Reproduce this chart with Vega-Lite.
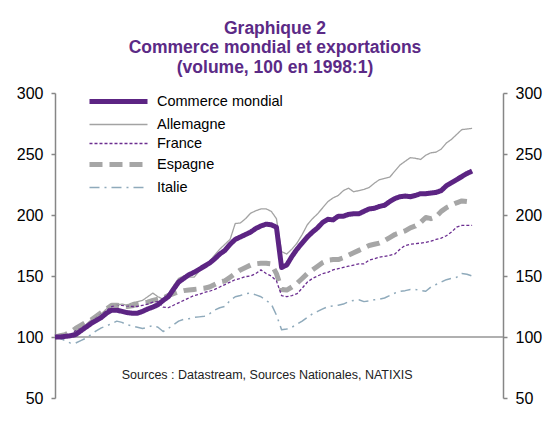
{
  "$schema": "https://vega.github.io/schema/vega-lite/v6.json",
  "width": 448,
  "height": 305,
  "autosize": {"type": "none"},
  "padding": {"left": 55, "top": 93, "right": 47, "bottom": 29},
  "background": "white",
  "title": {
    "text": ["Graphique 2", "Commerce mondial et exportations", "(volume, 100 en 1998:1)"],
    "font": "Liberation Sans",
    "fontSize": 17.5,
    "fontWeight": "bold",
    "color": "#5B2A86",
    "lineHeight": 19.5,
    "anchor": "middle",
    "offset": 9,
    "dx": -4
  },
  "config": {
    "view": {"stroke": null},
    "font": "Liberation Sans",
    "legend": {
      "orient": "none",
      "legendX": 51,
      "legendY": -4,
      "symbolType": "M-3,0H3",
      "symbolSize": 374,
      "labelFont": "Liberation Sans",
      "labelFontSize": 14.5,
      "labelColor": "#000000",
      "labelOffset": 26,
      "rowPadding": 2,
      "padding": 0
    }
  },
  "data": {
    "values": [
      {"t": 1998.0, "Commerce mondial": 100, "Allemagne": 100, "France": 100, "Espagne": 100, "Italie": 100},
      {"t": 1998.25, "Commerce mondial": 100, "Allemagne": 101, "France": 100.5, "Espagne": 101, "Italie": 99},
      {"t": 1998.5, "Commerce mondial": 100.5, "Allemagne": 101, "France": 101, "Espagne": 102, "Italie": 97},
      {"t": 1998.75, "Commerce mondial": 101, "Allemagne": 102, "France": 102, "Espagne": 104, "Italie": 95},
      {"t": 1999.0, "Commerce mondial": 102, "Allemagne": 104, "France": 105, "Espagne": 107, "Italie": 95},
      {"t": 1999.25, "Commerce mondial": 105, "Allemagne": 107, "France": 107, "Espagne": 109.5, "Italie": 97},
      {"t": 1999.5, "Commerce mondial": 108, "Allemagne": 110, "France": 110, "Espagne": 112, "Italie": 99},
      {"t": 1999.75, "Commerce mondial": 111, "Allemagne": 114, "France": 113, "Espagne": 114, "Italie": 102},
      {"t": 2000.0, "Commerce mondial": 113.5, "Allemagne": 116, "France": 116, "Espagne": 117, "Italie": 105},
      {"t": 2000.25, "Commerce mondial": 116, "Allemagne": 119, "France": 119, "Espagne": 120, "Italie": 107.5},
      {"t": 2000.5, "Commerce mondial": 119.5, "Allemagne": 123, "France": 122, "Espagne": 123, "Italie": 109},
      {"t": 2000.75, "Commerce mondial": 122, "Allemagne": 126.5, "France": 125, "Espagne": 126, "Italie": 111},
      {"t": 2001.0, "Commerce mondial": 122, "Allemagne": 126, "France": 126, "Espagne": 126, "Italie": 113},
      {"t": 2001.25, "Commerce mondial": 121, "Allemagne": 127, "France": 126, "Espagne": 125.5, "Italie": 112},
      {"t": 2001.5, "Commerce mondial": 120, "Allemagne": 126, "France": 125.5, "Espagne": 125, "Italie": 110},
      {"t": 2001.75, "Commerce mondial": 119.5, "Allemagne": 128, "France": 125, "Espagne": 125.5, "Italie": 109},
      {"t": 2002.0, "Commerce mondial": 119.5, "Allemagne": 129, "France": 125, "Espagne": 127, "Italie": 108},
      {"t": 2002.25, "Commerce mondial": 121, "Allemagne": 130, "France": 126, "Espagne": 128, "Italie": 107},
      {"t": 2002.5, "Commerce mondial": 123, "Allemagne": 133, "France": 127, "Espagne": 128.5, "Italie": 108},
      {"t": 2002.75, "Commerce mondial": 124.5, "Allemagne": 136, "France": 128.5, "Espagne": 130, "Italie": 109.5},
      {"t": 2003.0, "Commerce mondial": 126.5, "Allemagne": 133, "France": 129, "Espagne": 131, "Italie": 108},
      {"t": 2003.25, "Commerce mondial": 130, "Allemagne": 131, "France": 124.5, "Espagne": 132, "Italie": 104.5},
      {"t": 2003.5, "Commerce mondial": 133, "Allemagne": 135, "France": 124, "Espagne": 134, "Italie": 107},
      {"t": 2003.75, "Commerce mondial": 139, "Allemagne": 142, "France": 126, "Espagne": 135.5, "Italie": 110},
      {"t": 2004.0, "Commerce mondial": 145, "Allemagne": 148, "France": 128, "Espagne": 137, "Italie": 113},
      {"t": 2004.25, "Commerce mondial": 148, "Allemagne": 150, "France": 130, "Espagne": 138, "Italie": 114.5},
      {"t": 2004.5, "Commerce mondial": 151, "Allemagne": 149, "France": 132, "Espagne": 138.5, "Italie": 115},
      {"t": 2004.75, "Commerce mondial": 153, "Allemagne": 149, "France": 134, "Espagne": 139, "Italie": 116},
      {"t": 2005.0, "Commerce mondial": 155.5, "Allemagne": 154, "France": 135, "Espagne": 139.5, "Italie": 116.5},
      {"t": 2005.25, "Commerce mondial": 158, "Allemagne": 158, "France": 136.5, "Espagne": 140, "Italie": 117},
      {"t": 2005.5, "Commerce mondial": 160.5, "Allemagne": 162, "France": 137.5, "Espagne": 141, "Italie": 119},
      {"t": 2005.75, "Commerce mondial": 164, "Allemagne": 167, "France": 139, "Espagne": 143, "Italie": 122},
      {"t": 2006.0, "Commerce mondial": 168, "Allemagne": 172, "France": 141, "Espagne": 145, "Italie": 124},
      {"t": 2006.25, "Commerce mondial": 171, "Allemagne": 176, "France": 143, "Espagne": 146, "Italie": 125},
      {"t": 2006.5, "Commerce mondial": 176, "Allemagne": 180, "France": 145, "Espagne": 149, "Italie": 130},
      {"t": 2006.75, "Commerce mondial": 180, "Allemagne": 193, "France": 147, "Espagne": 152, "Italie": 133},
      {"t": 2007.0, "Commerce mondial": 182, "Allemagne": 193.5, "France": 148, "Espagne": 155, "Italie": 134},
      {"t": 2007.25, "Commerce mondial": 184, "Allemagne": 197, "France": 149.5, "Espagne": 157, "Italie": 135.5},
      {"t": 2007.5, "Commerce mondial": 186, "Allemagne": 201.5, "France": 150, "Espagne": 159, "Italie": 136},
      {"t": 2007.75, "Commerce mondial": 189, "Allemagne": 203.5, "France": 152, "Espagne": 160, "Italie": 134.5},
      {"t": 2008.0, "Commerce mondial": 191, "Allemagne": 205, "France": 155, "Espagne": 160.5, "Italie": 133},
      {"t": 2008.25, "Commerce mondial": 192.5, "Allemagne": 205, "France": 152, "Espagne": 160.5, "Italie": 130},
      {"t": 2008.5, "Commerce mondial": 192, "Allemagne": 203, "France": 150, "Espagne": 160, "Italie": 127},
      {"t": 2008.75, "Commerce mondial": 190, "Allemagne": 197, "France": 146, "Espagne": 152, "Italie": 118},
      {"t": 2009.0, "Commerce mondial": 157, "Allemagne": 170, "France": 134, "Espagne": 139, "Italie": 106},
      {"t": 2009.25, "Commerce mondial": 159, "Allemagne": 168, "France": 133, "Espagne": 138.5, "Italie": 106.5},
      {"t": 2009.5, "Commerce mondial": 166, "Allemagne": 172, "France": 134, "Espagne": 141, "Italie": 108},
      {"t": 2009.75, "Commerce mondial": 172, "Allemagne": 177, "France": 135.5, "Espagne": 144, "Italie": 110.5},
      {"t": 2010.0, "Commerce mondial": 177, "Allemagne": 184, "France": 140, "Espagne": 148, "Italie": 113},
      {"t": 2010.25, "Commerce mondial": 182, "Allemagne": 192, "France": 145, "Espagne": 152, "Italie": 116},
      {"t": 2010.5, "Commerce mondial": 186, "Allemagne": 197, "France": 148, "Espagne": 155, "Italie": 119},
      {"t": 2010.75, "Commerce mondial": 189.5, "Allemagne": 201, "France": 150, "Espagne": 158, "Italie": 121},
      {"t": 2011.0, "Commerce mondial": 194, "Allemagne": 206, "France": 152, "Espagne": 161, "Italie": 123},
      {"t": 2011.25, "Commerce mondial": 196.5, "Allemagne": 211, "France": 153, "Espagne": 163, "Italie": 125},
      {"t": 2011.5, "Commerce mondial": 196, "Allemagne": 214, "France": 155, "Espagne": 163.5, "Italie": 125.5},
      {"t": 2011.75, "Commerce mondial": 199, "Allemagne": 216, "France": 156, "Espagne": 163.5, "Italie": 126},
      {"t": 2012.0, "Commerce mondial": 199, "Allemagne": 220, "France": 157, "Espagne": 165, "Italie": 127},
      {"t": 2012.25, "Commerce mondial": 200.5, "Allemagne": 222, "France": 158, "Espagne": 167, "Italie": 129},
      {"t": 2012.5, "Commerce mondial": 201, "Allemagne": 219, "France": 159, "Espagne": 169, "Italie": 130},
      {"t": 2012.75, "Commerce mondial": 201, "Allemagne": 220, "France": 160, "Espagne": 171, "Italie": 130.5},
      {"t": 2013.0, "Commerce mondial": 203, "Allemagne": 221, "France": 160, "Espagne": 173, "Italie": 129},
      {"t": 2013.25, "Commerce mondial": 205, "Allemagne": 222.5, "France": 163, "Espagne": 175, "Italie": 129.5},
      {"t": 2013.5, "Commerce mondial": 205.5, "Allemagne": 226, "France": 164, "Espagne": 176, "Italie": 130.5},
      {"t": 2013.75, "Commerce mondial": 207, "Allemagne": 229, "France": 165.5, "Espagne": 177, "Italie": 131},
      {"t": 2014.0, "Commerce mondial": 208, "Allemagne": 230, "France": 166, "Espagne": 179, "Italie": 132},
      {"t": 2014.25, "Commerce mondial": 211, "Allemagne": 231, "France": 167, "Espagne": 181.5, "Italie": 134},
      {"t": 2014.5, "Commerce mondial": 213.5, "Allemagne": 236, "France": 168, "Espagne": 184, "Italie": 136},
      {"t": 2014.75, "Commerce mondial": 215, "Allemagne": 241, "France": 172, "Espagne": 185.5, "Italie": 137.5},
      {"t": 2015.0, "Commerce mondial": 215.5, "Allemagne": 244, "France": 175, "Espagne": 187, "Italie": 138},
      {"t": 2015.25, "Commerce mondial": 215, "Allemagne": 247, "France": 176, "Espagne": 189.5, "Italie": 139},
      {"t": 2015.5, "Commerce mondial": 216, "Allemagne": 246.5, "France": 176.5, "Espagne": 191, "Italie": 139},
      {"t": 2015.75, "Commerce mondial": 217.5, "Allemagne": 245.5, "France": 177, "Espagne": 194, "Italie": 138},
      {"t": 2016.0, "Commerce mondial": 217.5, "Allemagne": 249, "France": 177.5, "Espagne": 198, "Italie": 137.5},
      {"t": 2016.25, "Commerce mondial": 218, "Allemagne": 251, "France": 178.5, "Espagne": 197, "Italie": 141},
      {"t": 2016.5, "Commerce mondial": 218.5, "Allemagne": 251.5, "France": 180, "Espagne": 198.5, "Italie": 143},
      {"t": 2016.75, "Commerce mondial": 220, "Allemagne": 254, "France": 181, "Espagne": 203, "Italie": 145},
      {"t": 2017.0, "Commerce mondial": 224, "Allemagne": 259, "France": 183, "Espagne": 206, "Italie": 147},
      {"t": 2017.25, "Commerce mondial": 226.5, "Allemagne": 262, "France": 186, "Espagne": 208, "Italie": 148},
      {"t": 2017.5, "Commerce mondial": 229, "Allemagne": 266, "France": 190, "Espagne": 210, "Italie": 149},
      {"t": 2017.75, "Commerce mondial": 231.5, "Allemagne": 270, "France": 191.5, "Espagne": 211.5, "Italie": 152},
      {"t": 2018.0, "Commerce mondial": 234, "Allemagne": 270.5, "France": 191.5, "Espagne": 211, "Italie": 151.5},
      {"t": 2018.25, "Commerce mondial": 236, "Allemagne": 271, "France": 191.5, "Espagne": 208, "Italie": 150}
    ]
  },
  "resolve": {"axis": {"y": "independent"}},
  "layer": [
    {
      "data": {"values": [{"ref": 100}]},
      "mark": {"type": "rule", "color": "#969696", "strokeWidth": 1.5},
      "encoding": {
        "y": {
          "field": "ref",
          "type": "quantitative",
          "scale": {"domain": [50, 300], "nice": false, "zero": false},
          "axis": {
            "orient": "right",
            "values": [50, 100, 150, 200, 250, 300],
            "title": null,
            "grid": false,
            "domainColor": "#868686",
            "domainWidth": 1.5,
            "tickColor": "#868686",
            "tickWidth": 1.5,
            "tickSize": 4,
            "labelPadding": 8,
            "labelFont": "Liberation Sans",
            "labelFontSize": 16,
            "labelColor": "#000000"
          }
        }
      }
    },
    {
      "transform": [
        {"fold": ["Italie", "Espagne", "France", "Allemagne", "Commerce mondial"], "as": ["series", "value"]}
      ],
      "mark": {"type": "line", "strokeJoin": "round"},
      "encoding": {
        "x": {
          "field": "t",
          "type": "quantitative",
          "scale": {"domain": [1998, 2019.75], "nice": false, "zero": false},
          "axis": {
            "values": [1998, 2000, 2002, 2004, 2006, 2008, 2010, 2012, 2014, 2016, 2018],
            "labelExpr": "substring(toString(datum.value), 2, 4)",
            "title": null,
            "grid": false,
            "labelFlush": false,
            "domainColor": "#868686",
            "domainWidth": 1.5,
            "tickColor": "#868686",
            "tickWidth": 1.5,
            "tickSize": 5,
            "labelPadding": 3,
            "labelFont": "Liberation Sans",
            "labelFontSize": 16,
            "labelColor": "#000000"
          }
        },
        "y": {
          "field": "value",
          "type": "quantitative",
          "scale": {"domain": [50, 300], "nice": false, "zero": false},
          "axis": {
            "orient": "left",
            "values": [50, 100, 150, 200, 250, 300],
            "title": null,
            "grid": false,
            "domainColor": "#868686",
            "domainWidth": 1.5,
            "tickColor": "#868686",
            "tickWidth": 1.5,
            "tickSize": 4,
            "labelPadding": 8,
            "labelFont": "Liberation Sans",
            "labelFontSize": 16,
            "labelColor": "#000000"
          }
        },
        "color": {
          "field": "series",
          "type": "nominal",
          "scale": {
            "domain": ["Commerce mondial", "Allemagne", "France", "Espagne", "Italie"],
            "range": ["#5C2483", "#A3A3A3", "#6B2D90", "#A6A6A6", "#8FAABB"]
          },
          "legend": {"title": null}
        },
        "strokeDash": {
          "field": "series",
          "type": "nominal",
          "scale": {
            "domain": ["Commerce mondial", "Allemagne", "France", "Espagne", "Italie"],
            "range": [[1, 0], [1, 0], [3, 2], [13, 7], [10, 5, 2, 5]]
          },
          "legend": {"title": null}
        },
        "strokeWidth": {
          "field": "series",
          "type": "nominal",
          "scale": {
            "type": "ordinal",
            "domain": ["Commerce mondial", "Allemagne", "France", "Espagne", "Italie"],
            "range": [5, 1.3, 1.3, 5, 1.5]
          },
          "legend": {"title": null}
        }
      }
    },
    {
      "data": {"values": [{"x": 2008.3, "y": 69, "label": "Sources : Datastream, Sources Nationales, NATIXIS"}]},
      "mark": {"type": "text", "font": "Liberation Sans", "fontSize": 12.5, "color": "#222222", "align": "center", "baseline": "middle"},
      "encoding": {
        "x": {"field": "x", "type": "quantitative", "axis": null},
        "y": {"field": "y", "type": "quantitative", "axis": null},
        "text": {"field": "label"}
      }
    }
  ]
}
